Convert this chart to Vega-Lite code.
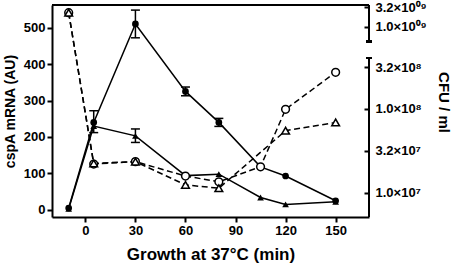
{
  "$schema": "https://vega.github.io/schema/vega-lite/v6.json",
  "width": 317,
  "height": 212,
  "autosize": {"type": "none"},
  "padding": {"left": 52, "top": 5, "right": 85, "bottom": 47},
  "background": "white",
  "config": {
    "view": {"stroke": null},
    "font": "Liberation Sans",
    "axis": {
      "labelFont": "Liberation Sans",
      "labelFontWeight": "bold",
      "labelFontSize": 13,
      "labelColor": "black",
      "titleFont": "Liberation Sans",
      "titleColor": "black",
      "domainColor": "black",
      "tickColor": "black",
      "domainWidth": 2,
      "tickWidth": 2,
      "grid": false,
      "labelOverlap": false
    }
  },
  "datasets": {
    "mrna": [
      {"t": -10, "series": "s1", "value": 5},
      {"t": 5, "series": "s1", "value": 240, "lo": 212, "hi": 272},
      {"t": 30, "series": "s1", "value": 510, "lo": 472, "hi": 548},
      {"t": 60, "series": "s1", "value": 325, "lo": 313, "hi": 337},
      {"t": 80, "series": "s1", "value": 240, "lo": 229, "hi": 251},
      {"t": 105, "series": "s1", "value": 118},
      {"t": 120, "series": "s1", "value": 93},
      {"t": 150, "series": "s1", "value": 25},
      {"t": -10, "series": "s2", "value": 3},
      {"t": 5, "series": "s2", "value": 230},
      {"t": 30, "series": "s2", "value": 203, "lo": 185, "hi": 222},
      {"t": 60, "series": "s2", "value": 94},
      {"t": 80, "series": "s2", "value": 98},
      {"t": 105, "series": "s2", "value": 34},
      {"t": 120, "series": "s2", "value": 15},
      {"t": 150, "series": "s2", "value": 22}
    ],
    "cfu": [
      {"t": -10, "series": "s1", "cfu": 2.33e9},
      {"t": 5, "series": "s1", "cfu": 2.2e7},
      {"t": 30, "series": "s1", "cfu": 2.35e7},
      {"t": 60, "series": "s1", "cfu": 1.58e7},
      {"t": 80, "series": "s1", "cfu": 1.35e7},
      {"t": 105, "series": "s1", "cfu": 2.04e7},
      {"t": 120, "series": "s1", "cfu": 9.9e7},
      {"t": 150, "series": "s1", "cfu": 2.74e8},
      {"t": -10, "series": "s2", "cfu": 2.33e9},
      {"t": 5, "series": "s2", "cfu": 2.24e7},
      {"t": 30, "series": "s2", "cfu": 2.35e7},
      {"t": 60, "series": "s2", "cfu": 1.24e7},
      {"t": 80, "series": "s2", "cfu": 1.13e7},
      {"t": 120, "series": "s2", "cfu": 5.5e7},
      {"t": 150, "series": "s2", "cfu": 6.9e7}
    ]
  },
  "layer": [
    {
      "data": {"name": "mrna"},
      "layer": [
        {
          "mark": {"type": "line", "color": "black", "strokeWidth": 1.5},
          "encoding": {
            "x": {
              "field": "t", "type": "quantitative",
              "scale": {"domain": [-20, 170], "nice": false, "zero": false},
              "axis": {
                "orient": "bottom",
                "values": [0, 30, 60, 90, 120, 150],
                "tickSize": 5,
                "labelPadding": 2,
                "title": "Growth at 37°C (min)",
                "titleFontSize": 17,
                "titleFontWeight": "bold",
                "titleY": 42,
                "titleBaseline": "alphabetic"
              }
            },
            "y": {
              "field": "value", "type": "quantitative",
              "scale": {"domain": [-19.5, 562], "nice": false, "zero": false},
              "axis": {
                "orient": "left",
                "values": [0, 100, 200, 300, 400, 500],
                "tickSize": 5,
                "labelPadding": 2,
                "title": "cspA mRNA (AU)",
                "titleFontSize": 14,
                "titleFontWeight": "bold",
                "titleX": -42,
                "titleY": 106,
                "titleAngle": -90,
                "titleAlign": "center",
                "titleBaseline": "middle"
              }
            },
            "detail": {"field": "series"}
          }
        },
        {
          "transform": [{"filter": "isValid(datum.lo)"}],
          "mark": {"type": "rule", "color": "black", "strokeWidth": 1.5},
          "encoding": {
            "x": {"field": "t", "type": "quantitative"},
            "y": {"field": "lo", "type": "quantitative"},
            "y2": {"field": "hi"}
          }
        },
        {
          "transform": [{"filter": "isValid(datum.lo)"}],
          "mark": {"type": "tick", "orient": "horizontal", "color": "black", "size": 9, "thickness": 1.5, "opacity": 1},
          "encoding": {
            "x": {"field": "t", "type": "quantitative"},
            "y": {"field": "lo", "type": "quantitative"}
          }
        },
        {
          "transform": [{"filter": "isValid(datum.lo)"}],
          "mark": {"type": "tick", "orient": "horizontal", "color": "black", "size": 9, "thickness": 1.5, "opacity": 1},
          "encoding": {
            "x": {"field": "t", "type": "quantitative"},
            "y": {"field": "hi", "type": "quantitative"}
          }
        },
        {
          "mark": {"type": "point", "filled": true, "color": "black", "opacity": 1, "size": 45},
          "encoding": {
            "x": {"field": "t", "type": "quantitative"},
            "y": {"field": "value", "type": "quantitative"},
            "shape": {"field": "series", "type": "nominal", "scale": {"domain": ["s1", "s2"], "range": ["circle", "triangle-up"]}, "legend": null}
          }
        },
        {
          "mark": {"type": "rule", "color": "black", "strokeWidth": 2},
          "encoding": {
            "x": {"datum": -20, "type": "quantitative"},
            "x2": {"datum": 170},
            "y": {"datum": 562, "type": "quantitative"}
          }
        }
      ]
    },
    {
      "data": {"name": "cfu"},
      "layer": [
        {
          "mark": {"type": "line", "color": "black", "strokeWidth": 1.5, "strokeDash": [6, 3.5]},
          "encoding": {
            "x": {"field": "t", "type": "quantitative"},
            "y": {
              "field": "cfu", "type": "quantitative",
              "scale": {"type": "log", "domain": [5.125e6, 4.06e8, 4.2e8, 3.66e9], "range": [212, 53, 36.7, 0], "nice": false, "zero": false},
              "axis": {
                "orient": "right",
                "domain": false,
                "values": [1e7, 3.1623e7, 1e8, 3.1623e8, 1e9, 3.1623e9],
                "tickSize": -5,
                "labelPadding": 11,
                "labelExpr": "datum.value < 2e7 ? '1.0×10⁷' : datum.value < 5e7 ? '3.2×10⁷' : datum.value < 2e8 ? '1.0×10⁸' : datum.value < 5e8 ? '3.2×10⁸' : datum.value < 2e9 ? '1.0×10⁰⁹' : '3.2×10⁰⁹'",
                "title": "CFU / ml",
                "titleFontSize": 15,
                "titleFontWeight": "bold",
                "titleAngle": 90,
                "titleX": 74,
                "titleY": 97,
                "titleAlign": "center",
                "titleBaseline": "middle"
              }
            },
            "detail": {"field": "series"}
          }
        },
        {
          "mark": {"type": "point", "filled": true, "fill": "white", "stroke": "black", "strokeWidth": 1.5, "opacity": 1, "size": 60},
          "encoding": {
            "x": {"field": "t", "type": "quantitative"},
            "y": {"field": "cfu", "type": "quantitative"},
            "shape": {"field": "series", "type": "nominal", "scale": {"domain": ["s1", "s2"], "range": ["circle", "triangle-up"]}, "legend": null}
          }
        },
        {
          "mark": {"type": "rule", "color": "black", "strokeWidth": 2},
          "encoding": {
            "x": {"datum": 170, "type": "quantitative"},
            "y": {"datum": 5.125e6, "type": "quantitative"},
            "y2": {"datum": 4.06e8}
          }
        },
        {
          "mark": {"type": "rule", "color": "black", "strokeWidth": 2},
          "encoding": {
            "x": {"datum": 170, "type": "quantitative"},
            "y": {"datum": 4.2e8, "type": "quantitative"},
            "y2": {"datum": 3.66e9}
          }
        },
        {
          "mark": {"type": "rule", "color": "black", "strokeWidth": 2},
          "encoding": {
            "x": {"datum": 168.2, "type": "quantitative"},
            "x2": {"datum": 171.8},
            "y": {"datum": 4.06e8, "type": "quantitative"}
          }
        },
        {
          "mark": {"type": "rule", "color": "black", "strokeWidth": 2},
          "encoding": {
            "x": {"datum": 168.2, "type": "quantitative"},
            "x2": {"datum": 171.8},
            "y": {"datum": 4.2e8, "type": "quantitative"}
          }
        }
      ]
    }
  ],
  "resolve": {"scale": {"y": "independent"}}
}
